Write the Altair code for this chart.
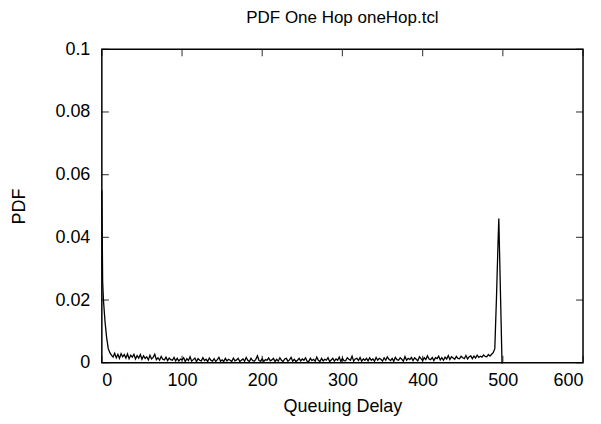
import altair as alt
import pandas as pd

# Leading decay near zero delay
head_x = [0, 1, 2, 4, 6, 8]
head_y = [0.055, 0.026, 0.020, 0.013, 0.008, 0.0045]

# Noisy floor, delay 10..488 in steps of 2, values in units of 1e-4
floor_start, floor_step = 10, 2
floor_e4 = [
    32, 24, 18, 30, 16, 27, 14, 29, 19, 26, 15, 28, 13, 24, 18, 27, 12, 23, 15, 26,
    11, 22, 14, 19, 9, 24, 12, 17, 27, 10, 16, 8, 20, 11, 9, 18, 7, 15, 10, 8,
    17, 6, 14, 5, 12, 9, 16, 4, 13, 7, 19, 5, 10, 15, 4, 13, 8, 6, 16, 7,
    11, 4, 15, 8, 5, 13, 4, 10, 17, 5, 9, 4, 14, 6, 11, 8, 4, 15, 6, 9,
    14, 4, 8, 12, 5, 17, 8, 4, 14, 7, 5, 11, 22, 7, 5, 13, 4, 10, 8, 15,
    6, 9, 14, 4, 11, 5, 16, 8, 4, 12, 14, 5, 9, 17, 5, 11, 4, 8, 14, 6,
    12, 8, 16, 5, 4, 14, 7, 11, 5, 18, 8, 4, 14, 6, 11, 8, 16, 4, 9, 14,
    5, 12, 8, 18, 4, 14, 7, 6, 16, 11, 8, 21, 5, 12, 14, 7, 17, 5, 12, 8,
    14, 6, 16, 8, 12, 5, 17, 8, 14, 11, 5, 16, 8, 19, 11, 7, 14, 5, 17, 10,
    8, 16, 11, 5, 20, 8, 14, 10, 17, 7, 16, 11, 6, 19, 13, 7, 16, 10, 22, 12,
    10, 17, 7, 16, 13, 21, 9, 16, 8, 18, 12, 23, 10, 19, 15, 11, 20, 14, 13, 21,
    16, 13, 23, 12, 19, 22, 13, 21, 15, 24, 17, 21, 18, 25, 20, 19, 26, 21, 27, 32,
]

# Spike near the buffer limit
tail_x = [490, 492, 494, 495, 497, 499, 500]
tail_y = [0.0045, 0.020, 0.038, 0.046, 0.023, 0.0, 0.0]

x_ticks = [0, 100, 200, 300, 400, 500, 600]
y_ticks = [0, 0.02, 0.04, 0.06, 0.08, 0.1]

xs = list(head_x)
ys = list(head_y)
for i, v in enumerate(floor_e4):
    xs.append(floor_start + floor_step * i)
    ys.append(v / 10000.0)
xs += tail_x
ys += tail_y

df = pd.DataFrame({"delay": xs, "pdf": ys})
xt = pd.DataFrame({"v": x_ticks})
yt = pd.DataFrame({"v": y_ticks})

FONT = "Liberation Sans"

xscale = alt.Scale(domain=[0, 600], nice=False, zero=False)
yscale = alt.Scale(domain=[0, 0.1], nice=False, zero=False)

xaxis = alt.Axis(values=x_ticks, format="d", title="Queuing Delay", grid=False,
                 domain=False, ticks=False, labelPadding=9, titlePadding=8,
                 labelFontSize=18, titleFontSize=18, labelFont=FONT, titleFont=FONT,
                 titleFontWeight="normal", labelColor="black", titleColor="black")
yaxis = alt.Axis(values=y_ticks, format=".2~f", title="PDF", grid=False,
                 domain=False, ticks=False, labelPadding=12, titlePadding=26,
                 labelFontSize=18, titleFontSize=18, labelFont=FONT, titleFont=FONT,
                 titleFontWeight="normal", labelColor="black", titleColor="black")

line = alt.Chart(df).mark_line(color="black", strokeWidth=1.3).encode(
    x=alt.X("delay:Q", scale=xscale, axis=xaxis),
    y=alt.Y("pdf:Q", scale=yscale, axis=yaxis),
)

TL = 7
bottom_ticks = alt.Chart(xt).mark_tick(orient="vertical", size=TL, thickness=1.2,
                                        yOffset=-TL / 2, color="black").encode(
    x=alt.X("v:Q", scale=xscale), y=alt.datum(0, scale=yscale))
top_ticks = alt.Chart(xt).mark_tick(orient="vertical", size=TL, thickness=1.2,
                                     yOffset=TL / 2, color="black").encode(
    x=alt.X("v:Q", scale=xscale), y=alt.datum(0.1, scale=yscale))
left_ticks = alt.Chart(yt).mark_tick(orient="horizontal", size=TL, thickness=1.2,
                                      xOffset=TL / 2, color="black").encode(
    y=alt.Y("v:Q", scale=yscale), x=alt.datum(0, scale=xscale))
right_ticks = alt.Chart(yt).mark_tick(orient="horizontal", size=TL, thickness=1.2,
                                       xOffset=-TL / 2, color="black").encode(
    y=alt.Y("v:Q", scale=yscale), x=alt.datum(600, scale=xscale))

chart = alt.layer(line, bottom_ticks, top_ticks, left_ticks, right_ticks).properties(
    width=482,
    height=314,
    title=alt.TitleParams("PDF One Hop oneHop.tcl", font=FONT, fontSize=17,
                          fontWeight="normal", color="black", anchor="middle",
                          offset=13),
    autosize=alt.AutoSizeParams(type="none"),
    padding={"left": 94, "top": 41, "right": 10, "bottom": 58},
    background="white",
).configure_view(stroke="black", strokeWidth=1.5)

chart.save("out.html", embed_options={"renderer": "svg", "actions": False})
